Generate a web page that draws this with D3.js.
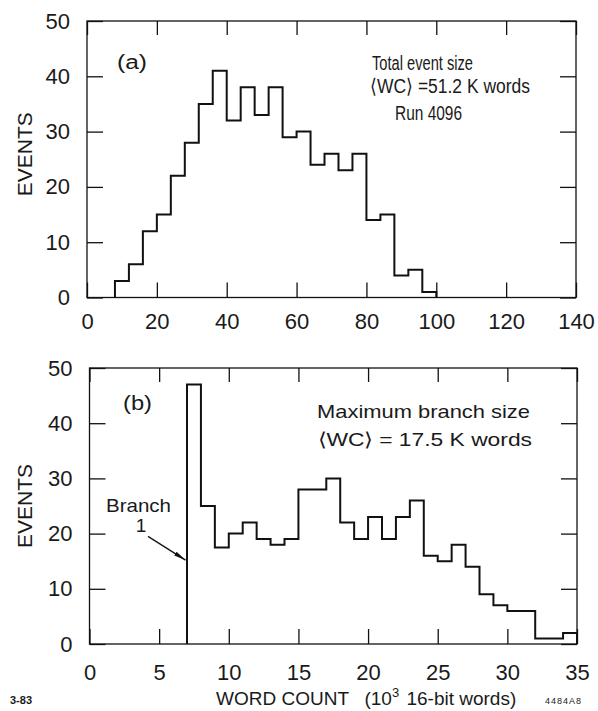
<!DOCTYPE html>
<html>
<head>
<meta charset="utf-8">
<script src="https://cdn.jsdelivr.net/npm/d3@7"></script>
<style>
  body { margin: 0; background: #fff; }
  svg { display: block; }
  text { font-family: "Liberation Sans", Arial, sans-serif; fill: #1a1a1a; }
</style>
</head>
<body>
<svg id="chart" width="598" height="711"></svg>
<script>
// (a) total event size: 4K-word bins starting at 8K
var topBinStart = 8, topBinWidth = 4;
var topCounts = [3, 6, 12, 15, 22, 28, 35, 41, 32, 38, 33, 38, 29, 30, 24, 26, 23, 26, 14, 15, 4, 5, 1];
var topXTicks = [0, 20, 40, 60, 80, 100, 120, 140];

// (b) maximum branch size: 1K-word bins starting at 7K
var botBinStart = 7, botBinWidth = 1;
var botCounts = [47, 25, 17.5, 20, 22, 19, 18, 19, 28, 28, 30, 22, 19, 23, 19, 23, 26, 16, 15, 18, 14, 9, 7, 6, 6, 1, 1, 2];
var botXTicks = [0, 5, 10, 15, 20, 25, 30, 35];

var yTicks = [0, 10, 20, 30, 40, 50];

var svg = d3.select("#chart");
var INK = "#111";

svg.append("defs").append("marker")
  .attr("id", "arrow").attr("viewBox", "0 0 12 6").attr("refX", 12).attr("refY", 3)
  .attr("markerWidth", 12).attr("markerHeight", 6).attr("markerUnits", "userSpaceOnUse")
  .attr("orient", "auto")
  .append("path").attr("d", "M0,0.8 L12,3 L0,5.2 Z").attr("fill", INK);

function styleAxis(sel, size) {
  sel.attr("font-family", "'Liberation Sans', Arial, sans-serif").attr("font-size", size);
  sel.select(".domain").remove();
  sel.selectAll(".tick line").attr("stroke", INK).attr("stroke-width", 1.3);
  sel.selectAll(".tick text").attr("fill", "#222");
}

function panel(o) {
  var x = d3.scaleLinear().domain(o.xDomain).range([o.left, o.right]);
  var y = d3.scaleLinear().domain([0, 50]).range([o.bottom, o.top]);
  var g = svg.append("g");

  g.append("g").attr("transform", "translate(0," + o.bottom + ")")
    .call(d3.axisBottom(x).tickValues(o.xTicks).tickSize(-15).tickPadding(o.xPad).tickFormat(d3.format("d")))
    .call(styleAxis, 22);
  g.append("g").attr("transform", "translate(0," + o.top + ")")
    .call(d3.axisTop(x).tickValues(o.xTicks).tickSize(-14).tickFormat(""))
    .call(styleAxis, 22);
  g.append("g").attr("transform", "translate(" + o.left + ",0)")
    .call(d3.axisLeft(y).tickValues(yTicks).tickSize(-16).tickPadding(17))
    .call(styleAxis, 22);
  g.append("g").attr("transform", "translate(" + o.right + ",0)")
    .call(d3.axisRight(y).tickValues(yTicks).tickSize(-16).tickFormat(""))
    .call(styleAxis, 22);

  g.append("rect")
    .attr("x", o.left).attr("y", o.top)
    .attr("width", o.right - o.left).attr("height", o.bottom - o.top)
    .attr("fill", "none").attr("stroke", INK).attr("stroke-width", 1.3);

  // step outline of the histogram
  var pts = [[o.start, 0]];
  o.counts.forEach(function (c, i) {
    pts.push([o.start + i * o.width, c]);
    pts.push([o.start + (i + 1) * o.width, c]);
  });
  pts.push([o.start + o.counts.length * o.width, 0]);
  g.append("path")
    .attr("d", d3.line().x(function (d) { return x(d[0]); }).y(function (d) { return y(d[1]); })(pts))
    .attr("fill", "none").attr("stroke", INK).attr("stroke-width", 2).attr("stroke-linejoin", "miter");

  g.append("text")
    .attr("transform", "translate(32," + ((o.top + o.bottom) / 2 - o.evShift) + ") rotate(-90)")
    .attr("text-anchor", "middle").attr("font-size", 21).text("EVENTS");

  return { x: x, y: y, g: g };
}

var a = panel({
  left: 87, right: 576, top: 21, bottom: 297.5, xDomain: [0, 140], xTicks: topXTicks, xPad: 16,
  start: topBinStart, width: topBinWidth, counts: topCounts, evShift: 5
});
var b = panel({
  left: 89.5, right: 577, top: 368, bottom: 644, xDomain: [0, 35], xTicks: botXTicks, xPad: 20,
  start: botBinStart, width: botBinWidth, counts: botCounts, evShift: 0
});

// panel labels and notes
function note(g, x, y, s, size, len) {
  var t = g.append("text").attr("x", x).attr("y", y).attr("font-size", size).text(s);
  if (len) t.attr("textLength", len).attr("lengthAdjust", "spacingAndGlyphs");
  return t;
}
note(a.g, 117, 69, "(a)", 20, 30);
note(a.g, 372, 70, "Total event size", 20, 101);
note(a.g, 370, 93, "\u27E8WC\u27E9 =51.2 K  words", 20, 160);
note(a.g, 395, 120, "Run 4096", 20, 67);

note(b.g, 123, 410, "(b)", 20, 29);
note(b.g, 317, 418, "Maximum branch size", 19, 213);
note(b.g, 318, 446, "\u27E8WC\u27E9 = 17.5 K  words", 19, 214);
note(b.g, 106, 512, "Branch", 19, 65);
b.g.append("text").attr("x", 141).attr("y", 532).attr("text-anchor", "middle").attr("font-size", 19).text("1");

b.g.append("line")
  .attr("x1", b.x(4.2)).attr("y1", b.y(19.5))
  .attr("x2", b.x(7) - 1.5).attr("y2", b.y(15.2))
  .attr("stroke", INK).attr("stroke-width", 1.3).attr("marker-end", "url(#arrow)");

var title = svg.append("text").attr("x", 216).attr("y", 705).attr("font-size", 19).attr("xml:space", "preserve");
title.append("tspan").text("WORD COUNT   (10");
title.append("tspan").attr("dy", -8).attr("font-size", 13).text("3");
title.append("tspan").attr("dy", 8).attr("dx", 2).text(" 16-bit words)");

svg.append("text").attr("x", 10).attr("y", 704).attr("font-size", 11).attr("font-weight", "bold").text("3-83");
svg.append("text").attr("x", 545).attr("y", 704).attr("font-size", 9).attr("letter-spacing", 1).text("4484A8");
</script>
</body>
</html>
